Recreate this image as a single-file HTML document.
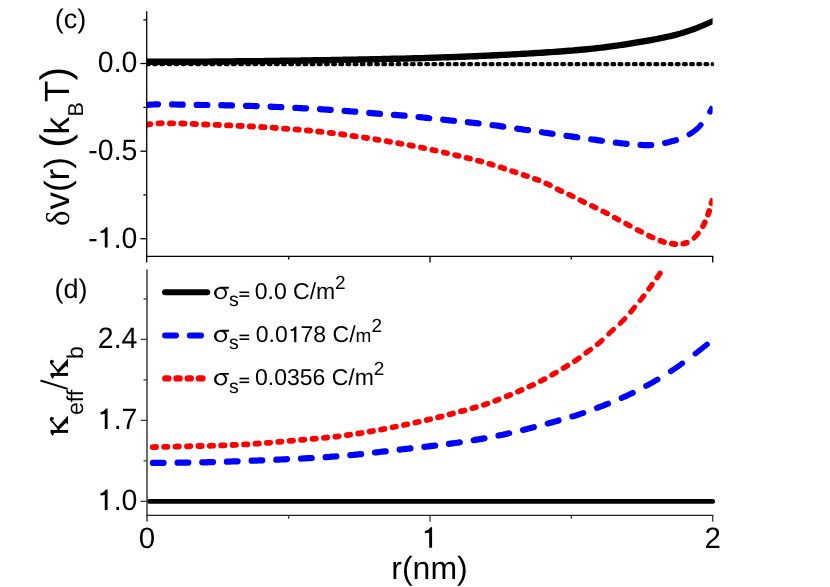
<!DOCTYPE html>
<html><head><meta charset="utf-8"><title>chart</title>
<style>html,body{margin:0;padding:0;background:#fff;}body{width:830px;height:587px;overflow:hidden;position:relative;font-family:"Liberation Sans",sans-serif;}</style></head>
<body>
<svg width="830" height="587" viewBox="0 0 830 587" style="position:absolute;left:0;top:0;will-change:transform" text-rendering="geometricPrecision">
<rect width="830" height="587" fill="#fff"/>
<defs><clipPath id="ct"><rect x="146.7" y="0" width="565.9" height="256"/></clipPath><clipPath id="hb"><path d="M4160.7,2134.9 L-2734.7,-1921.3 L-4762.8,1526.5 L2132.7,5582.6Z"/></clipPath><clipPath id="hr"><path d="M4519.8,1426.6 L-3093.8,-1029.4 L-4321.8,2777.4 L3291.8,5233.4Z"/></clipPath><clipPath id="cb"><rect x="146.7" y="269.5" width="570" height="246"/></clipPath></defs>
<g clip-path="url(#ct)" stroke="none">
<g fill="#000"><rect x="145.00" y="62.0" width="5.8" height="4.2" rx="1.7" ry="1.7"/><rect x="152.16" y="62.0" width="5.8" height="4.2" rx="1.7" ry="1.7"/><rect x="159.32" y="62.0" width="5.8" height="4.2" rx="1.7" ry="1.7"/><rect x="166.48" y="62.0" width="5.8" height="4.2" rx="1.7" ry="1.7"/><rect x="173.64" y="62.0" width="5.8" height="4.2" rx="1.7" ry="1.7"/><rect x="180.80" y="62.0" width="5.8" height="4.2" rx="1.7" ry="1.7"/><rect x="187.96" y="62.0" width="5.8" height="4.2" rx="1.7" ry="1.7"/><rect x="195.12" y="62.0" width="5.8" height="4.2" rx="1.7" ry="1.7"/><rect x="202.28" y="62.0" width="5.8" height="4.2" rx="1.7" ry="1.7"/><rect x="209.44" y="62.0" width="5.8" height="4.2" rx="1.7" ry="1.7"/><rect x="216.60" y="62.0" width="5.8" height="4.2" rx="1.7" ry="1.7"/><rect x="223.76" y="62.0" width="5.8" height="4.2" rx="1.7" ry="1.7"/><rect x="230.92" y="62.0" width="5.8" height="4.2" rx="1.7" ry="1.7"/><rect x="238.08" y="62.0" width="5.8" height="4.2" rx="1.7" ry="1.7"/><rect x="245.24" y="62.0" width="5.8" height="4.2" rx="1.7" ry="1.7"/><rect x="252.40" y="62.0" width="5.8" height="4.2" rx="1.7" ry="1.7"/><rect x="259.56" y="62.0" width="5.8" height="4.2" rx="1.7" ry="1.7"/><rect x="266.72" y="62.0" width="5.8" height="4.2" rx="1.7" ry="1.7"/><rect x="273.88" y="62.0" width="5.8" height="4.2" rx="1.7" ry="1.7"/><rect x="281.04" y="62.0" width="5.8" height="4.2" rx="1.7" ry="1.7"/><rect x="288.20" y="62.0" width="5.8" height="4.2" rx="1.7" ry="1.7"/><rect x="295.36" y="62.0" width="5.8" height="4.2" rx="1.7" ry="1.7"/><rect x="302.52" y="62.0" width="5.8" height="4.2" rx="1.7" ry="1.7"/><rect x="309.68" y="62.0" width="5.8" height="4.2" rx="1.7" ry="1.7"/><rect x="316.84" y="62.0" width="5.8" height="4.2" rx="1.7" ry="1.7"/><rect x="324.00" y="62.0" width="5.8" height="4.2" rx="1.7" ry="1.7"/><rect x="331.16" y="62.0" width="5.8" height="4.2" rx="1.7" ry="1.7"/><rect x="338.32" y="62.0" width="5.8" height="4.2" rx="1.7" ry="1.7"/><rect x="345.48" y="62.0" width="5.8" height="4.2" rx="1.7" ry="1.7"/><rect x="352.64" y="62.0" width="5.8" height="4.2" rx="1.7" ry="1.7"/><rect x="359.80" y="62.0" width="5.8" height="4.2" rx="1.7" ry="1.7"/><rect x="366.96" y="62.0" width="5.8" height="4.2" rx="1.7" ry="1.7"/><rect x="374.12" y="62.0" width="5.8" height="4.2" rx="1.7" ry="1.7"/><rect x="381.28" y="62.0" width="5.8" height="4.2" rx="1.7" ry="1.7"/><rect x="388.44" y="62.0" width="5.8" height="4.2" rx="1.7" ry="1.7"/><rect x="395.60" y="62.0" width="5.8" height="4.2" rx="1.7" ry="1.7"/><rect x="402.76" y="62.0" width="5.8" height="4.2" rx="1.7" ry="1.7"/><rect x="409.92" y="62.0" width="5.8" height="4.2" rx="1.7" ry="1.7"/><rect x="417.08" y="62.0" width="5.8" height="4.2" rx="1.7" ry="1.7"/><rect x="424.24" y="62.0" width="5.8" height="4.2" rx="1.7" ry="1.7"/><rect x="431.40" y="62.0" width="5.8" height="4.2" rx="1.7" ry="1.7"/><rect x="438.56" y="62.0" width="5.8" height="4.2" rx="1.7" ry="1.7"/><rect x="445.72" y="62.0" width="5.8" height="4.2" rx="1.7" ry="1.7"/><rect x="452.88" y="62.0" width="5.8" height="4.2" rx="1.7" ry="1.7"/><rect x="460.04" y="62.0" width="5.8" height="4.2" rx="1.7" ry="1.7"/><rect x="467.20" y="62.0" width="5.8" height="4.2" rx="1.7" ry="1.7"/><rect x="474.36" y="62.0" width="5.8" height="4.2" rx="1.7" ry="1.7"/><rect x="481.52" y="62.0" width="5.8" height="4.2" rx="1.7" ry="1.7"/><rect x="488.68" y="62.0" width="5.8" height="4.2" rx="1.7" ry="1.7"/><rect x="495.84" y="62.0" width="5.8" height="4.2" rx="1.7" ry="1.7"/><rect x="503.00" y="62.0" width="5.8" height="4.2" rx="1.7" ry="1.7"/><rect x="510.16" y="62.0" width="5.8" height="4.2" rx="1.7" ry="1.7"/><rect x="517.32" y="62.0" width="5.8" height="4.2" rx="1.7" ry="1.7"/><rect x="524.48" y="62.0" width="5.8" height="4.2" rx="1.7" ry="1.7"/><rect x="531.64" y="62.0" width="5.8" height="4.2" rx="1.7" ry="1.7"/><rect x="538.80" y="62.0" width="5.8" height="4.2" rx="1.7" ry="1.7"/><rect x="545.96" y="62.0" width="5.8" height="4.2" rx="1.7" ry="1.7"/><rect x="553.12" y="62.0" width="5.8" height="4.2" rx="1.7" ry="1.7"/><rect x="560.28" y="62.0" width="5.8" height="4.2" rx="1.7" ry="1.7"/><rect x="567.44" y="62.0" width="5.8" height="4.2" rx="1.7" ry="1.7"/><rect x="574.60" y="62.0" width="5.8" height="4.2" rx="1.7" ry="1.7"/><rect x="581.76" y="62.0" width="5.8" height="4.2" rx="1.7" ry="1.7"/><rect x="588.92" y="62.0" width="5.8" height="4.2" rx="1.7" ry="1.7"/><rect x="596.08" y="62.0" width="5.8" height="4.2" rx="1.7" ry="1.7"/><rect x="603.24" y="62.0" width="5.8" height="4.2" rx="1.7" ry="1.7"/><rect x="610.40" y="62.0" width="5.8" height="4.2" rx="1.7" ry="1.7"/><rect x="617.56" y="62.0" width="5.8" height="4.2" rx="1.7" ry="1.7"/><rect x="624.72" y="62.0" width="5.8" height="4.2" rx="1.7" ry="1.7"/><rect x="631.88" y="62.0" width="5.8" height="4.2" rx="1.7" ry="1.7"/><rect x="639.04" y="62.0" width="5.8" height="4.2" rx="1.7" ry="1.7"/><rect x="646.20" y="62.0" width="5.8" height="4.2" rx="1.7" ry="1.7"/><rect x="653.36" y="62.0" width="5.8" height="4.2" rx="1.7" ry="1.7"/><rect x="660.52" y="62.0" width="5.8" height="4.2" rx="1.7" ry="1.7"/><rect x="667.68" y="62.0" width="5.8" height="4.2" rx="1.7" ry="1.7"/><rect x="674.84" y="62.0" width="5.8" height="4.2" rx="1.7" ry="1.7"/><rect x="682.00" y="62.0" width="5.8" height="4.2" rx="1.7" ry="1.7"/><rect x="689.16" y="62.0" width="5.8" height="4.2" rx="1.7" ry="1.7"/><rect x="696.32" y="62.0" width="5.8" height="4.2" rx="1.7" ry="1.7"/><rect x="703.48" y="62.0" width="5.8" height="4.2" rx="1.7" ry="1.7"/></g>
<g clip-path="url(#hb)"><path d="M147.3,104.9 L148.9,104.8 L150.4,104.6 L151.9,104.5 L153.5,104.5 L155.0,104.4 L156.5,104.3 L158.0,104.3 M172.0,104.4 L173.5,104.4 L175.1,104.5 L176.6,104.5 L178.1,104.6 L179.6,104.6 L181.2,104.6 L182.7,104.7 M196.7,104.9 L198.2,104.9 L199.7,104.9 L201.2,105.0 L202.8,105.0 L204.3,105.0 L205.8,105.0 L207.4,105.0 M221.3,105.2 L222.8,105.2 L224.4,105.3 L225.9,105.3 L227.4,105.3 L229.0,105.4 L230.5,105.4 L232.0,105.4 M246.0,105.8 L247.5,105.8 L249.0,105.9 L250.6,105.9 L252.1,106.0 L253.6,106.0 L255.2,106.1 L256.7,106.1 M270.6,106.7 L272.2,106.8 L273.7,106.8 L275.2,106.9 L276.8,107.0 L278.3,107.0 L279.8,107.1 L281.3,107.2 M295.3,107.9 L296.8,107.9 L298.4,108.0 L299.9,108.1 L301.4,108.2 L302.9,108.3 L304.5,108.3 L306.0,108.4 M320.0,109.2 L321.5,109.3 L323.0,109.4 L324.5,109.5 L326.1,109.6 L327.6,109.7 L329.1,109.8 L330.7,109.9 M344.6,110.9 L346.1,111.0 L347.7,111.1 L349.2,111.2 L350.7,111.4 L352.3,111.5 L353.8,111.6 L355.3,111.7 M369.3,112.9 L370.8,113.1 L372.3,113.2 L373.9,113.3 L375.4,113.4 L376.9,113.6 L378.5,113.7 L380.0,113.8 M393.9,114.8 L395.5,114.9 L397.0,115.1 L398.5,115.2 L400.1,115.3 L401.6,115.4 L403.1,115.6 L404.6,115.7 M418.6,117.0 L420.1,117.2 L421.7,117.3 L423.2,117.5 L424.7,117.7 L426.2,117.8 L427.8,118.0 L429.3,118.2 M443.2,119.7 L444.8,119.8 L446.3,120.0 L447.8,120.2 L449.4,120.3 L450.9,120.5 L452.4,120.7 L454.0,120.8 M467.9,122.2 L469.4,122.4 L471.0,122.6 L472.5,122.7 L474.0,122.9 L475.6,123.1 L477.1,123.2 L478.6,123.4 M492.6,125.1 L494.1,125.3 L495.6,125.5 L497.2,125.7 L498.7,125.9 L500.2,126.1 L501.8,126.3 L503.3,126.6 M517.2,128.6 L518.7,128.9 L520.3,129.1 L521.8,129.3 L523.4,129.6 L524.9,129.8 L526.4,130.0 L528.0,130.2 M541.9,132.2 L543.4,132.5 L544.9,132.7 L546.5,132.9 L548.0,133.1 L549.6,133.3 L551.1,133.6 L552.6,133.8 M566.5,135.8 L568.1,136.0 L569.6,136.2 L571.1,136.4 L572.7,136.6 L574.2,136.9 L575.8,137.1 L577.3,137.3 M591.2,139.3 L592.7,139.5 L594.3,139.7 L595.8,139.9 L597.3,140.1 L598.9,140.3 L600.4,140.6 L601.9,140.8 M615.9,142.6 L617.4,142.8 L618.9,143.0 L620.5,143.2 L622.0,143.3 L623.5,143.5 L625.1,143.7 L626.6,143.8 M640.5,144.9 L642.1,145.0 L643.6,145.1 L645.1,145.1 L646.7,145.1 L648.2,145.1 L649.7,145.1 L651.2,145.0" stroke="#0000ff" stroke-width="6.2" fill="none" stroke-linecap="round" stroke-linejoin="round"/>
<path d="M665.1,143.0 L666.7,142.6 L668.2,142.3 L669.8,141.9 L671.3,141.4 L672.9,141.0 L674.4,140.6 L676.0,140.1" stroke="#0000ff" stroke-width="6.1" fill="none" stroke-linecap="round" stroke-linejoin="round"/>
<path d="M689.3,134.4 L690.5,133.7 L691.7,132.9 L692.8,132.1 L694.0,131.3 L695.2,130.4 L696.4,129.4 L697.6,128.3 L698.8,127.2 L699.9,126.0 L700.9,124.8" stroke="#0000ff" stroke-width="5.5" fill="none" stroke-linecap="round" stroke-linejoin="round"/>
<path d="M710.0,111.8 L710.8,110.3 L711.7,108.9 L712.6,107.5 L713.5,106.0 L714.3,104.6 L715.1,103.2 L715.9,101.7 L716.7,100.3" stroke="#0000ff" stroke-width="5.7" fill="none" stroke-linecap="round" stroke-linejoin="round"/></g>
<g clip-path="url(#hr)"><path d="M147.1,124.7 L148.8,124.4 L150.4,124.1 M158.5,123.4 L160.2,123.3 L161.8,123.2 M169.9,123.3 L171.6,123.3 L173.2,123.3 M181.3,123.5 L183.0,123.5 L184.6,123.6 M192.7,123.9 L194.4,124.0 L196.0,124.1 M204.1,124.5 L205.8,124.5 L207.5,124.6 M215.6,124.8 L217.2,124.9 L218.9,125.0 M227.0,125.3 L228.6,125.4 L230.3,125.4 M238.4,125.8 L240.0,125.9 L241.7,126.0 M249.8,126.3 L251.4,126.4 L253.1,126.5 M261.2,127.0 L262.9,127.1 L264.5,127.2 M272.6,127.7 L274.3,127.8 L275.9,128.0 M284.0,128.6 L285.7,128.7 L287.3,128.8 M295.4,129.4 L297.1,129.6 L298.7,129.7 M306.8,130.4 L308.5,130.5 L310.2,130.7 M318.2,131.5 L319.9,131.6 L321.6,131.8 M329.6,132.8 L331.3,133.0 L333.0,133.2 M341.0,134.2 L342.7,134.5 L344.4,134.7 M352.4,135.9 L354.1,136.1 L355.8,136.3 M363.9,137.5 L365.5,137.8 L367.2,138.0 M375.3,139.3 L377.0,139.6 L378.6,139.8 M386.7,141.2 L388.4,141.5 L390.1,141.8 M398.1,143.2 L399.8,143.5 L401.5,143.8 M671.9,243.7 L673.6,244.0 L675.3,244.1" stroke="#ff0000" stroke-width="5.8" fill="none" stroke-linecap="round" stroke-linejoin="round"/>
<path d="M409.5,145.2 L411.2,145.6 L412.9,145.9 M420.9,147.4 L422.6,147.8 L424.3,148.2 M432.3,149.9 L434.0,150.2 L435.7,150.6 M443.7,152.4 L445.4,152.8 L447.1,153.2 M455.1,155.1 L456.8,155.5 L458.6,155.9 M466.5,157.8 L468.2,158.2 L470.0,158.6 M477.9,160.7 L479.6,161.1 L481.4,161.6 M489.3,163.8 L491.1,164.3 L492.8,164.9 M500.6,167.3 L502.5,167.9 L504.3,168.5 M660.4,240.8 L662.2,241.4 L664.0,242.0 M683.2,243.7 L685.0,243.3 L686.8,242.6 M708.0,214.6 L708.6,212.8 L709.2,211.0 M711.5,203.2 L712.1,201.4 L712.7,199.6" stroke="#ff0000" stroke-width="5.7" fill="none" stroke-linecap="round" stroke-linejoin="round"/>
<path d="M512.0,171.1 L513.9,171.7 L515.7,172.3 M523.5,175.0 L525.3,175.6 L527.1,176.2 M534.8,178.9 L536.7,179.5 L538.5,180.2" stroke="#ff0000" stroke-width="5.6" fill="none" stroke-linecap="round" stroke-linejoin="round"/>
<path d="M546.1,183.4 L548.1,184.3 L550.1,185.2 M557.5,189.2 L559.5,190.2 L561.5,191.2 M569.0,194.5 L570.9,195.4 L572.9,196.4 M580.3,200.2 L582.3,201.3 L584.3,202.3 M591.8,205.8 L593.7,206.7 L595.7,207.7 M603.1,211.4 L604.5,212.1 L605.8,212.8 L607.2,213.5 M637.4,229.8 L638.7,230.5 L640.1,231.2 L641.4,231.9 M648.8,235.7 L650.8,236.7 L652.8,237.6 M702.9,226.2 L703.9,224.2 L704.9,222.2" stroke="#ff0000" stroke-width="5.5" fill="none" stroke-linecap="round" stroke-linejoin="round"/>
<path d="M614.5,217.5 L615.9,218.2 L617.2,219.0 L618.6,219.8 M625.9,223.7 L627.3,224.5 L628.6,225.2 L630.0,225.9" stroke="#ff0000" stroke-width="5.4" fill="none" stroke-linecap="round" stroke-linejoin="round"/>
<path d="M694.0,238.0 L695.2,236.8 L696.4,235.6 L697.4,234.4 L698.4,233.2" stroke="#ff0000" stroke-width="5.0" fill="none" stroke-linecap="round" stroke-linejoin="round"/></g>
<path d="M146.0,58.6 L149.0,58.6 L152.0,58.6 L155.0,58.6 L158.0,58.6 L161.0,58.6 L164.0,58.6 L167.0,58.6 L170.0,58.6 L173.0,58.6 L176.0,58.5 L179.0,58.5 L182.0,58.5 L185.0,58.5 L188.0,58.5 L191.0,58.5 L194.0,58.5 L197.0,58.4 L200.0,58.4 L203.0,58.4 L206.0,58.4 L209.0,58.4 L212.0,58.3 L215.0,58.3 L218.0,58.3 L221.0,58.3 L224.0,58.3 L227.0,58.2 L230.0,58.2 L233.0,58.2 L236.0,58.1 L239.0,58.1 L242.0,58.1 L245.0,58.1 L248.0,58.0 L251.0,58.0 L254.0,58.0 L257.0,57.9 L260.0,57.9 L263.0,57.9 L266.0,57.8 L269.0,57.8 L272.0,57.7 L275.0,57.7 L278.0,57.7 L281.0,57.6 L284.0,57.6 L287.0,57.5 L290.0,57.5 L293.0,57.4 L296.0,57.4 L299.0,57.4 L302.0,57.3 L305.0,57.3 L308.0,57.2 L311.0,57.2 L314.0,57.1 L317.0,57.1 L320.0,57.0 L323.0,57.0 L326.0,56.9 L329.0,56.9 L332.0,56.8 L335.0,56.8 L338.0,56.7 L341.0,56.7 L344.0,56.6 L347.0,56.6 L350.0,56.5 L353.0,56.4 L356.0,56.4 L359.0,56.3 L362.0,56.3 L365.0,56.2 L368.0,56.2 L371.0,56.1 L374.0,56.0 L377.0,56.0 L380.0,55.9 L383.0,55.8 L386.0,55.8 L389.0,55.7 L392.0,55.6 L395.0,55.6 L398.0,55.5 L401.0,55.4 L404.0,55.4 L407.0,55.3 L410.0,55.2 L413.0,55.1 L416.0,55.0 L419.0,55.0 L422.0,54.9 L425.0,54.8 L428.0,54.7 L431.0,54.6 L434.0,54.5 L437.0,54.4 L440.0,54.3 L443.0,54.2 L446.0,54.1 L449.0,54.0 L452.0,53.9 L455.0,53.8 L458.0,53.7 L461.0,53.6 L464.0,53.5 L467.0,53.3 L470.0,53.2 L473.0,53.1 L476.0,53.0 L479.0,52.8 L482.0,52.7 L485.0,52.6 L488.0,52.4 L491.0,52.3 L494.0,52.1 L497.0,52.0 L500.0,51.8 L503.0,51.7 L506.0,51.5 L509.0,51.4 L512.0,51.2 L515.0,51.1 L518.0,50.9 L521.0,50.7 L524.0,50.6 L527.0,50.4 L530.0,50.2 L533.0,50.0 L536.0,49.8 L539.0,49.7 L542.0,49.5 L545.0,49.3 L548.0,49.1 L551.0,48.9 L554.0,48.7 L557.0,48.5 L560.0,48.3 L563.0,48.1 L566.0,47.8 L569.0,47.6 L572.0,47.4 L575.0,47.1 L578.0,46.8 L581.0,46.6 L584.0,46.3 L587.0,46.0 L590.0,45.7 L593.0,45.4 L596.0,45.1 L599.0,44.7 L602.0,44.4 L605.0,44.0 L608.0,43.6 L611.0,43.2 L614.0,42.8 L617.0,42.4 L620.0,41.9 L623.0,41.5 L626.0,41.0 L629.0,40.6 L632.0,40.1 L635.0,39.6 L638.0,39.1 L641.0,38.6 L644.0,38.1 L647.0,37.5 L650.0,37.0 L653.0,36.5 L656.0,35.9 L659.0,35.3 L662.0,34.7 L665.0,34.1 L668.0,33.4 L671.0,32.8 L674.0,32.0 L677.0,31.3 L680.0,30.4 L683.0,29.6 L686.0,28.6 L689.0,27.6 L692.0,26.6 L695.0,25.5 L698.0,24.3 L701.0,23.1 L704.0,21.8 L707.0,20.5 L710.0,19.2 L713.0,17.8 L716.0,16.4 L716.0,22.8 L713.0,24.2 L710.0,25.6 L707.0,26.9 L704.0,28.2 L701.0,29.5 L698.0,30.7 L695.0,31.9 L692.0,33.0 L689.0,34.0 L686.0,35.0 L683.0,36.0 L680.0,36.8 L677.0,37.7 L674.0,38.4 L671.0,39.2 L668.0,39.8 L665.0,40.5 L662.0,41.1 L659.0,41.7 L656.0,42.3 L653.0,42.9 L650.0,43.4 L647.0,43.9 L644.0,44.5 L641.0,45.0 L638.0,45.5 L635.0,46.0 L632.0,46.5 L629.0,47.0 L626.0,47.4 L623.0,47.9 L620.0,48.3 L617.0,48.8 L614.0,49.2 L611.0,49.6 L608.0,50.0 L605.0,50.4 L602.0,50.8 L599.0,51.1 L596.0,51.5 L593.0,51.8 L590.0,52.1 L587.0,52.4 L584.0,52.7 L581.0,53.0 L578.0,53.2 L575.0,53.5 L572.0,53.8 L569.0,54.0 L566.0,54.2 L563.0,54.5 L560.0,54.7 L557.0,54.9 L554.0,55.1 L551.0,55.3 L548.0,55.5 L545.0,55.7 L542.0,55.9 L539.0,56.1 L536.0,56.2 L533.0,56.4 L530.0,56.6 L527.0,56.8 L524.0,57.0 L521.0,57.1 L518.0,57.3 L515.0,57.5 L512.0,57.6 L509.0,57.8 L506.0,57.9 L503.0,58.1 L500.0,58.2 L497.0,58.4 L494.0,58.5 L491.0,58.7 L488.0,58.8 L485.0,59.0 L482.0,59.1 L479.0,59.2 L476.0,59.4 L473.0,59.5 L470.0,59.6 L467.0,59.7 L464.0,59.9 L461.0,60.0 L458.0,60.1 L455.0,60.2 L452.0,60.3 L449.0,60.4 L446.0,60.5 L443.0,60.6 L440.0,60.7 L437.0,60.8 L434.0,60.9 L431.0,61.0 L428.0,61.1 L425.0,61.2 L422.0,61.3 L419.0,61.4 L416.0,61.4 L413.0,61.5 L410.0,61.6 L407.0,61.7 L404.0,61.8 L401.0,61.8 L398.0,61.9 L395.0,62.0 L392.0,62.0 L389.0,62.1 L386.0,62.2 L383.0,62.2 L380.0,62.3 L377.0,62.4 L374.0,62.4 L371.0,62.5 L368.0,62.6 L365.0,62.6 L362.0,62.7 L359.0,62.7 L356.0,62.8 L353.0,62.8 L350.0,62.9 L347.0,63.0 L344.0,63.0 L341.0,63.1 L338.0,63.1 L335.0,63.2 L332.0,63.2 L329.0,63.3 L326.0,63.3 L323.0,63.4 L320.0,63.4 L317.0,63.5 L314.0,63.5 L311.0,63.6 L308.0,63.6 L305.0,63.7 L302.0,63.7 L299.0,63.8 L296.0,63.8 L293.0,63.8 L290.0,63.9 L287.0,63.9 L284.0,64.0 L281.0,64.0 L278.0,64.1 L275.0,64.1 L272.0,64.1 L269.0,64.2 L266.0,64.2 L263.0,64.3 L260.0,64.3 L257.0,64.3 L254.0,64.4 L251.0,64.4 L248.0,64.4 L245.0,64.5 L242.0,64.5 L239.0,64.5 L236.0,64.5 L233.0,64.6 L230.0,64.6 L227.0,64.6 L224.0,64.7 L221.0,64.7 L218.0,64.7 L215.0,64.7 L212.0,64.7 L209.0,64.8 L206.0,64.8 L203.0,64.8 L200.0,64.8 L197.0,64.8 L194.0,64.9 L191.0,64.9 L188.0,64.9 L185.0,64.9 L182.0,64.9 L179.0,64.9 L176.0,64.9 L173.0,65.0 L170.0,65.0 L167.0,65.0 L164.0,65.0 L161.0,65.0 L158.0,65.0 L155.0,65.0 L152.0,65.0 L149.0,65.0 L146.0,65.0Z" fill="#000"/>
</g>
<rect x="710.6" y="62.0" width="3.5" height="4.2" rx="1.75" ry="2.0" fill="#000"/>
<g clip-path="url(#cb)" stroke="none">
<path d="M152.9,462.9 L154.4,462.9 L156.0,462.9 L157.5,462.8 L159.0,462.8 L160.5,462.8 L162.1,462.8 L163.6,462.8 M177.6,462.7 L179.1,462.7 L180.6,462.7 L182.2,462.7 L183.7,462.6 L185.2,462.6 L186.8,462.6 L188.3,462.6 M202.3,462.4 L203.8,462.3 L205.3,462.3 L206.8,462.3 L208.4,462.2 L209.9,462.2 L211.4,462.1 L213.0,462.1 M226.9,461.7 L228.5,461.6 L230.0,461.6 L231.5,461.5 L233.1,461.4 L234.6,461.4 L236.1,461.3 L237.6,461.3 M251.6,460.7 L253.1,460.7 L254.7,460.6 L256.2,460.6 L257.7,460.5 L259.3,460.4 L260.8,460.4 L262.3,460.3 M276.3,459.7 L277.8,459.6 L279.4,459.6 L280.9,459.5 L282.4,459.4 L283.9,459.4 L285.5,459.3 L287.0,459.2 M301.0,458.6 L302.5,458.5 L304.0,458.4 L305.6,458.3 L307.1,458.2 L308.6,458.2 L310.2,458.1 L311.7,458.0 M325.7,457.2 L327.2,457.1 L328.7,457.0 L330.2,456.8 L331.8,456.7 L333.3,456.6 L334.8,456.5 L336.4,456.4 M350.3,455.2 L351.9,455.0 L353.4,454.9 L354.9,454.7 L356.5,454.6 L358.0,454.4 L359.5,454.2 L361.1,454.1 M375.0,452.5 L376.5,452.3 L378.1,452.2 L379.6,452.0 L381.1,451.8 L382.7,451.6 L384.2,451.4 L385.7,451.3 M399.7,449.6 L401.2,449.5 L402.7,449.3 L404.3,449.1 L405.8,448.9 L407.4,448.8 L408.9,448.6 L410.4,448.4 M424.4,446.8 L425.9,446.7 L427.4,446.5 L429.0,446.3 L430.5,446.1 L432.0,445.9 L433.6,445.8 L435.1,445.6 M449.0,443.8 L450.6,443.6 L452.1,443.4 L453.6,443.2 L455.2,443.0 L456.7,442.8 L458.3,442.6 L459.8,442.3 M473.7,440.2 L475.2,439.9 L476.8,439.7 L478.3,439.4 L479.9,439.2 L481.4,438.9 L482.9,438.6 L484.5,438.3" stroke="#0000ff" stroke-width="6.2" fill="none" stroke-linecap="round" stroke-linejoin="round"/>
<path d="M498.4,435.6 L499.9,435.3 L501.4,435.0 L503.0,434.7 L504.5,434.3 L506.1,434.0 L507.6,433.6 L509.2,433.3 M523.0,430.0 L524.6,429.6 L526.1,429.2 L527.7,428.8 L529.2,428.4 L530.8,428.0 L532.3,427.6 L533.9,427.2 M547.7,423.5 L549.2,423.1 L550.8,422.7 L552.4,422.3 L553.9,421.8 L555.5,421.4 L557.0,421.0 L558.6,420.5" stroke="#0000ff" stroke-width="6.1" fill="none" stroke-linecap="round" stroke-linejoin="round"/>
<path d="M572.3,416.5 L573.9,416.1 L575.5,415.6 L577.0,415.1 L578.6,414.5 L580.2,414.0 L581.7,413.5 L583.3,413.0 M596.9,408.0 L598.5,407.4 L600.1,406.8 L601.7,406.2 L603.3,405.6 L604.9,404.9 L606.4,404.3 L608.0,403.7" stroke="#0000ff" stroke-width="6.0" fill="none" stroke-linecap="round" stroke-linejoin="round"/>
<path d="M621.6,398.0 L623.0,397.4 L624.4,396.8 L625.8,396.2 L627.2,395.5 L628.6,394.9 L630.0,394.2 L631.4,393.5 L632.8,392.8" stroke="#0000ff" stroke-width="5.9" fill="none" stroke-linecap="round" stroke-linejoin="round"/>
<path d="M646.1,385.9 L647.6,385.2 L649.0,384.4 L650.4,383.6 L651.9,382.8 L653.3,382.0 L654.7,381.1 L656.1,380.3 L657.6,379.5" stroke="#0000ff" stroke-width="5.8" fill="none" stroke-linecap="round" stroke-linejoin="round"/>
<path d="M670.7,371.4 L672.0,370.5 L673.3,369.7 L674.6,368.8 L675.9,367.9 L677.2,367.0 L678.5,366.1 L679.8,365.2 L681.0,364.3 L682.3,363.4" stroke="#0000ff" stroke-width="5.6" fill="none" stroke-linecap="round" stroke-linejoin="round"/>
<path d="M695.3,353.7 L696.5,352.8 L697.7,351.9 L698.9,350.9 L700.0,350.0 L701.2,349.1 L702.4,348.1 L703.6,347.2 L704.7,346.3 L705.9,345.3 L707.1,344.4" stroke="#0000ff" stroke-width="5.5" fill="none" stroke-linecap="round" stroke-linejoin="round"/>
<path d="M152.7,447.1 L154.4,447.1 L156.0,447.0 M164.1,446.8 L165.8,446.8 L167.4,446.8 M175.5,446.6 L177.2,446.5 L178.8,446.5 M187.0,446.3 L188.6,446.3 L190.3,446.2 M198.4,446.0 L200.0,446.0 L201.7,446.0 M209.8,445.8 L211.5,445.7 L213.1,445.7 M221.2,445.4 L222.9,445.4 L224.5,445.3 M232.6,445.0 L234.3,444.9 L235.9,444.8 M244.1,444.4 L245.7,444.4 L247.4,444.3 M255.5,443.7 L257.1,443.6 L258.8,443.5 M266.9,442.9 L268.6,442.8 L270.2,442.6 M278.3,441.9 L280.0,441.8 L281.6,441.6 M289.7,440.9 L291.4,440.8 L293.1,440.6 M301.1,439.9 L302.8,439.8 L304.5,439.6 M312.6,438.9 L314.2,438.8 L315.9,438.6 M324.0,437.8 L325.7,437.7 L327.3,437.5 M335.4,436.6 L337.1,436.5 L338.7,436.3 M346.8,435.2 L348.5,435.0 L350.2,434.7 M358.2,433.5 L359.9,433.3 L361.6,433.0 M369.6,431.6 L371.3,431.3 L373.0,431.0" stroke="#ff0000" stroke-width="5.8" fill="none" stroke-linecap="round" stroke-linejoin="round"/>
<path d="M381.0,429.6 L382.8,429.2 L384.5,428.9 M392.5,427.3 L394.2,427.0 L395.9,426.6 M403.9,425.0 L405.6,424.6 L407.3,424.3 M415.3,422.6 L417.0,422.2 L418.7,421.8 M426.7,420.0 L428.4,419.6 L430.2,419.2 M438.1,417.3 L439.9,416.9 L441.6,416.5 M449.5,414.4 L451.3,414.0 L453.0,413.5 M460.9,411.3 L462.7,410.9 L464.5,410.4 M472.3,408.2 L474.1,407.7 L475.9,407.2" stroke="#ff0000" stroke-width="5.7" fill="none" stroke-linecap="round" stroke-linejoin="round"/>
<path d="M483.7,404.9 L485.5,404.3 L487.4,403.7 M495.1,400.8 L497.0,400.1 L498.8,399.4 M506.5,396.4 L508.4,395.7 L510.3,394.9 M517.9,391.6 L519.8,390.8 L521.7,389.9" stroke="#ff0000" stroke-width="5.6" fill="none" stroke-linecap="round" stroke-linejoin="round"/>
<path d="M529.3,386.6 L531.2,385.7 L533.2,384.8 M540.6,381.1 L542.0,380.4 L543.3,379.7 L544.7,379.0" stroke="#ff0000" stroke-width="5.5" fill="none" stroke-linecap="round" stroke-linejoin="round"/>
<path d="M552.0,374.9 L553.4,374.1 L554.7,373.3 L556.1,372.5 M563.4,368.1 L564.8,367.3 L566.2,366.4 L567.6,365.6 M664.7,266.0 L665.5,264.6 L666.4,263.2 L667.2,261.8" stroke="#ff0000" stroke-width="5.4" fill="none" stroke-linecap="round" stroke-linejoin="round"/>
<path d="M574.7,361.2 L576.2,360.2 L577.6,359.2 L579.1,358.1 M657.1,277.6 L658.2,276.1 L659.2,274.6 L660.1,273.2" stroke="#ff0000" stroke-width="5.3" fill="none" stroke-linecap="round" stroke-linejoin="round"/>
<path d="M586.0,352.9 L587.6,351.7 L589.1,350.6 L590.6,349.5 M640.2,300.5 L641.4,299.0 L642.6,297.4 L643.8,295.9 M648.9,289.0 L650.0,287.5 L651.1,286.0 L652.1,284.5" stroke="#ff0000" stroke-width="5.2" fill="none" stroke-linecap="round" stroke-linejoin="round"/>
<path d="M597.3,344.4 L598.5,343.5 L599.7,342.5 L600.9,341.4 L602.1,340.3 M630.7,312.0 L631.7,310.8 L632.7,309.6 L633.7,308.4 L634.7,307.2" stroke="#ff0000" stroke-width="5.1" fill="none" stroke-linecap="round" stroke-linejoin="round"/>
<path d="M608.7,334.0 L609.9,332.8 L611.2,331.6 L612.4,330.5 L613.6,329.4 M620.1,323.5 L621.3,322.3 L622.6,321.0 L623.8,319.8 L625.0,318.5" stroke="#ff0000" stroke-width="4.9" fill="none" stroke-linecap="round" stroke-linejoin="round"/>
</g>
<path d="M149.4,501.4 L712.7,501.4" stroke="#000" stroke-width="4.8" stroke-linecap="round" fill="none"/>
<g stroke="#000" stroke-width="1.3" fill="none" stroke-linecap="butt">
<path d="M146.7,11.3 V262.6"/>
<path d="M146.1,256.3 H713.3"/>
<path d="M140.4,63.5 H146.7"/>
<path d="M140.4,151.2 H146.7"/>
<path d="M140.4,238.7 H146.7"/>
<path d="M143.4,19.9 H146.7"/>
<path d="M143.4,107.4 H146.7"/>
<path d="M143.4,194.9 H146.7"/>
<path d="M430,256.3 V262.6"/>
<path d="M712.7,256.3 V262.6"/>
<path d="M288.7,256.3 V259.4"/>
<path d="M571.3,256.3 V259.4"/>
</g>
<g stroke="#3a3a3a" stroke-width="1.5" fill="none" stroke-linecap="butt">
<path d="M147,269.5 V521.6"/>
<path d="M146.3,515.4 H713.4" stroke-width="1.3" stroke="#222"/>
<path d="M140.6,339.4 H147" stroke-width="1.3"/>
<path d="M140.6,420.4 H147" stroke-width="1.3"/>
<path d="M140.6,501.3 H147" stroke-width="1.3"/>
<path d="M143.5,298.9 H147" stroke-width="1.3"/>
<path d="M143.5,379.9 H147" stroke-width="1.3"/>
<path d="M143.5,460.9 H147" stroke-width="1.3"/>
<path d="M430,515.4 V521.7" stroke-width="1.3"/>
<path d="M712.7,515.4 V521.7" stroke-width="1.3"/>
<path d="M288.7,515.4 V518.8" stroke-width="1.3"/>
<path d="M571.3,515.4 V518.8" stroke-width="1.3"/>
</g>
<g fill="none" stroke-linecap="round">
<path d="M165.1,292.2 H207.2" stroke="#000" stroke-width="6"/>
<path d="M165.1,335.6 H176 M189.8,335.6 H201" stroke="#0000ff" stroke-width="6"/>
<path d="M165.2,378.4 H168.5 M176.4,378.4 H179.7 M187.6,378.4 H190.9 M198.8,378.4 H202.5" stroke="#ff0000" stroke-width="6.2"/>
</g>
<g fill="#000">
<text x="54.70" y="28.30" font-size="27" font-family="Liberation Sans, sans-serif">(c)</text>
<text x="54.40" y="297.80" font-size="27" font-family="Liberation Sans, sans-serif">(d)</text>
<g transform="translate(97.83,72.40) scale(0.965,1)" font-family="Liberation Sans, sans-serif" font-size="29.5">
<text x="0.00" y="0">0.0</text>
</g>
<g transform="translate(88.35,160.10) scale(0.965,1)" font-family="Liberation Sans, sans-serif" font-size="29.5">
<text x="0.00" y="0">-0.5</text>
</g>
<g transform="translate(88.35,247.60) scale(0.965,1)" font-family="Liberation Sans, sans-serif" font-size="29.5">
<text x="0.00" y="0">-</text>
<path transform="translate(8.92,0) scale(0.01440,-0.01440)" d="M763 0H563V1041L260 1007V1159Q514 1187 646 1416H763Z"/>
<text x="26.23" y="0">.0</text>
</g>
<g transform="translate(97.83,348.00) scale(0.965,1)" font-family="Liberation Sans, sans-serif" font-size="29.5">
<text x="0.00" y="0">2.4</text>
</g>
<g transform="translate(97.83,429.00) scale(0.965,1)" font-family="Liberation Sans, sans-serif" font-size="29.5">
<path transform="translate(-0.90,0) scale(0.01440,-0.01440)" d="M763 0H563V1041L260 1007V1159Q514 1187 646 1416H763Z"/>
<text x="16.40" y="0">.7</text>
</g>
<g transform="translate(97.83,509.90) scale(0.965,1)" font-family="Liberation Sans, sans-serif" font-size="29.5">
<path transform="translate(-0.90,0) scale(0.01440,-0.01440)" d="M763 0H563V1041L260 1007V1159Q514 1187 646 1416H763Z"/>
<text x="16.40" y="0">.0</text>
</g>
<g transform="translate(138.70,547.70) scale(1.0,1)" font-family="Liberation Sans, sans-serif" font-size="29.5">
<text x="0.00" y="0">0</text>
</g>
<g transform="translate(421.10,547.70) scale(1.0,1)" font-family="Liberation Sans, sans-serif" font-size="29.5">
<path transform="translate(0.00,0) scale(0.01440,-0.01440)" d="M763 0H563V1041L260 1007V1159Q514 1187 646 1416H763Z"/>
</g>
<g transform="translate(704.60,547.70) scale(1.0,1)" font-family="Liberation Sans, sans-serif" font-size="29.5">
<text x="0.00" y="0">2</text>
</g>
<text x="429.50" y="579.00" font-size="32" font-family="Liberation Sans, sans-serif" text-anchor="middle">r(nm)</text>
</g>
<g fill="#000" transform="translate(68.7,0) rotate(-90)">
<text x="-226.00" y="0.20" font-size="33" font-family="Liberation Serif, serif">δ</text>
<text x="-209.60" y="0.00" font-size="35" font-family="Liberation Sans, sans-serif">v(r)</text>
<text x="-147.70" y="0.00" font-size="41" font-family="Liberation Sans, sans-serif">(</text>
<text x="-134.40" y="0.00" font-size="35" font-family="Liberation Sans, sans-serif">k</text>
<text x="-116.40" y="14.30" font-size="21.5" font-family="Liberation Sans, sans-serif">B</text>
<text x="-101.90" y="0.00" font-size="35" font-family="Liberation Sans, sans-serif">T</text>
<text x="-80.60" y="0.00" font-size="41" font-family="Liberation Sans, sans-serif">)</text>
</g>
<g transform="translate(67.95,435.76) rotate(-90) scale(1,-1)" fill="#000" stroke="none">
<path d="M2.86,0 H5.75 V17.4 H2.86 Z"/>
<path d="M3.0,17.4 L0.0,15.4 L0.05,14.9 L3.0,13.7 Z"/>
<path d="M5.75,8.1 L5.75,10.3 L7.4,11.3 L8.4,10.7 L18.3,1.7 L19.7,0.6 L19.7,0 L11.1,0 L13.0,1.9 L6.4,8.5 Z"/>
<path d="M7.6,9.9 L12.8,14.3 C14.0,15.4 14.7,16.4 15.8,17.0 C16.6,17.4 17.6,17.3 18.2,16.6" fill="none" stroke="#000" stroke-width="1.7" stroke-linecap="round"/>
<circle cx="17.2" cy="15.7" r="1.65"/>
</g>
<path d="M40.5,380.5 L67.6,388.8" stroke="#000" stroke-width="1.9" fill="none"/>
<g transform="translate(67.95,378.76) rotate(-90) scale(1,-1)" fill="#000" stroke="none">
<path d="M2.86,0 H5.75 V17.4 H2.86 Z"/>
<path d="M3.0,17.4 L0.0,15.4 L0.05,14.9 L3.0,13.7 Z"/>
<path d="M5.75,8.1 L5.75,10.3 L7.4,11.3 L8.4,10.7 L18.3,1.7 L19.7,0.6 L19.7,0 L11.1,0 L13.0,1.9 L6.4,8.5 Z"/>
<path d="M7.6,9.9 L12.8,14.3 C14.0,15.4 14.7,16.4 15.8,17.0 C16.6,17.4 17.6,17.3 18.2,16.6" fill="none" stroke="#000" stroke-width="1.7" stroke-linecap="round"/>
<circle cx="17.2" cy="15.7" r="1.65"/>
</g>
<g fill="#000" transform="translate(68.2,0) rotate(-90)">
<text x="-415.00" y="15.00" font-size="23" font-family="Liberation Sans, sans-serif">eff</text>
<text x="-358.90" y="14.70" font-size="23" font-family="Liberation Sans, sans-serif">b</text>
</g>
<g fill="#000">
<path fill-rule="evenodd" d="M214.00,293.10 a6.55,6.15 0 1,0 13.1,0 a6.55,6.15 0 1,0 -13.1,0 Z M216.40,293.20 a4.3,4.55 0 1,1 8.6,0 a4.3,4.55 0 1,1 -8.6,0 Z"/>
<path d="M219.20,286.75 H229.00 L228.70,288.65 H222.00 Z"/>
<text x="229.00" y="306.30" font-size="19.5" font-family="Liberation Sans, sans-serif">s</text>
<rect x="239.5" y="291.50" width="9.6" height="1.6"/><rect x="239.5" y="295.30" width="9.6" height="1.6"/>
<g transform="translate(254.73,299.20) scale(1.0,1)" font-family="Liberation Sans, sans-serif" font-size="23">
<text x="0.00" y="0">0.0</text>
</g>
<text x="293.10" y="299.20" font-size="23" font-family="Liberation Sans, sans-serif">C/m</text>
<text x="335.00" y="288.60" font-size="19" font-family="Liberation Sans, sans-serif">2</text>
<path fill-rule="evenodd" d="M214.00,336.20 a6.55,6.15 0 1,0 13.1,0 a6.55,6.15 0 1,0 -13.1,0 Z M216.40,336.30 a4.3,4.55 0 1,1 8.6,0 a4.3,4.55 0 1,1 -8.6,0 Z"/>
<path d="M219.20,329.85 H229.00 L228.70,331.75 H222.00 Z"/>
<text x="229.00" y="349.40" font-size="19.5" font-family="Liberation Sans, sans-serif">s</text>
<rect x="239.5" y="334.60" width="9.6" height="1.6"/><rect x="239.5" y="338.40" width="9.6" height="1.6"/>
<g transform="translate(255.83,342.30) scale(1.0,1)" font-family="Liberation Sans, sans-serif" font-size="23">
<text x="0.00" y="0">0.0</text>
<path transform="translate(31.97,0) scale(0.01123,-0.01123)" d="M763 0H563V1041L260 1007V1159Q514 1187 646 1416H763Z"/>
<text x="44.76" y="0">78</text>
</g>
<text x="332.56" y="342.30" font-size="23" font-family="Liberation Sans, sans-serif">C/</text>
<text x="355.56" y="342.30" font-size="19" font-family="Liberation Sans, sans-serif">m</text>
<text x="371.60" y="331.70" font-size="19" font-family="Liberation Sans, sans-serif">2</text>
<path fill-rule="evenodd" d="M214.00,379.30 a6.55,6.15 0 1,0 13.1,0 a6.55,6.15 0 1,0 -13.1,0 Z M216.40,379.40 a4.3,4.55 0 1,1 8.6,0 a4.3,4.55 0 1,1 -8.6,0 Z"/>
<path d="M219.20,372.95 H229.00 L228.70,374.85 H222.00 Z"/>
<text x="229.00" y="392.50" font-size="19.5" font-family="Liberation Sans, sans-serif">s</text>
<rect x="239.5" y="377.70" width="9.6" height="1.6"/><rect x="239.5" y="381.50" width="9.6" height="1.6"/>
<g transform="translate(255.03,385.40) scale(1.0,1)" font-family="Liberation Sans, sans-serif" font-size="23">
<text x="0.00" y="0">0.0356</text>
</g>
<text x="331.76" y="385.40" font-size="23" font-family="Liberation Sans, sans-serif">C/m</text>
<text x="373.80" y="374.80" font-size="19" font-family="Liberation Sans, sans-serif">2</text>
</g>
</svg>
</body></html>
